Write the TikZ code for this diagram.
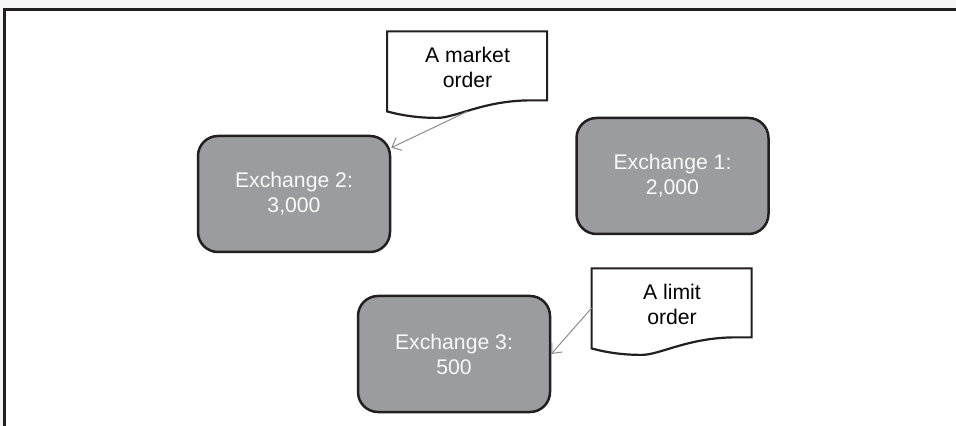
\documentclass[tikz,border=0pt]{standalone}
\usepackage{fontspec}
\setmainfont{Liberation Sans}
\usepackage{tikz}
\usetikzlibrary{arrows.meta}
\usepackage{xcolor}
\definecolor{exfill}{RGB}{155,156,160}
\definecolor{exline}{RGB}{35,31,32}
\definecolor{arrgray}{RGB}{140,140,140}
% outline of a document shape round the node #1 (160 x 80 px)
\newcommand{\docoutline}[1]{%
\draw[docline,shift={(#1.south west)}] (0,0) -- (0,-80) -- (160,-80) -- (160,-11) -- (140,-11)
  .. controls (95,-10) and (68,6.5) .. (50,6.5) .. controls (35,6.5) and (18,5) .. cycle;}

\begin{document}
\begin{tikzpicture}[x=0.5pt,y=-0.5pt,>={Straight Barb[length=4pt,width=7pt]},
  exbox/.style={draw=exline,line width=1.25pt,fill=exfill,rounded corners=10pt,
    minimum width=96pt,minimum height=58pt,text=white!94!exfill,align=center,
    font=\fontsize{10.6}{12.5}\selectfont},
  docbox/.style={minimum width=80pt,minimum height=40pt,align=center,inner sep=0pt,
    font=\fontsize{10.6}{12.5}\selectfont},
  docline/.style={draw=exline,line width=1.1pt,fill=white},
  arr/.style={->,draw=arrgray,line width=0.5pt}]
\useasboundingbox (0,0) rectangle (956,426);
\fill[gray!8] (0,0) rectangle (956,426);
\draw[exline,line width=1.5pt,fill=white] (4,10) rectangle (970,440);

\node[exbox] (ex2) at (294,194) {Exchange 2:\\3,000};
\node[exbox] (ex1) at (672.5,176) {Exchange 1:\\2,000};
\node[exbox] (ex3) at (454,354) {Exchange 3:\\500};

\node[docbox] (market) at (467.5,71) {};
\node[docbox] (limit) at (672,308) {};
\docoutline{market}
\docoutline{limit}
\node[docbox] at ([yshift=2pt]market) {A market\\order};
\node[docbox] at ([yshift=2pt]limit) {A limit\\order};

\draw[arr] (market.south) -- (ex2);
\draw[arr] (limit.west) -- (ex3.east);
\end{tikzpicture}
\end{document}
